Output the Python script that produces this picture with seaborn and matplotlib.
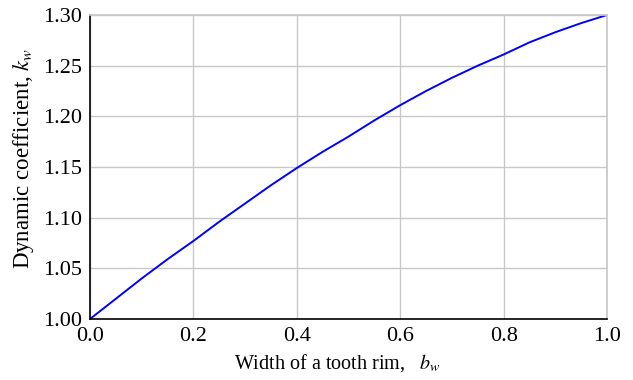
import pandas as pd
import matplotlib
matplotlib.use("Agg")
import matplotlib.pyplot as plt
import seaborn as sns

# Values (every 0.05)
width = [0.00, 0.05, 0.10, 0.15, 0.20, 0.25, 0.30, 0.35, 0.40, 0.45, 0.50,
         0.55, 0.60, 0.65, 0.70, 0.75, 0.80, 0.85, 0.90, 0.95, 1.00]
coef = [1.000, 1.020, 1.040, 1.059, 1.077, 1.096, 1.114, 1.132, 1.149, 1.165, 1.180,
        1.196, 1.211, 1.225, 1.238, 1.250, 1.261, 1.273, 1.283, 1.292, 1.300]
x_ticks = [0.0, 0.2, 0.4, 0.6, 0.8, 1.0]
y_ticks = [1.00, 1.05, 1.10, 1.15, 1.20, 1.25, 1.30]


def main():
    sns.set_theme(style="whitegrid")
    plt.rcParams['font.family'] = ['Liberation Serif', 'DejaVu Serif']
    plt.rcParams['mathtext.fontset'] = 'stix'

    df = pd.DataFrame({"width": width, "coef": coef})

    fig, ax = plt.subplots(figsize=(6.33, 3.8), dpi=100)
    sns.lineplot(data=df, x="width", y="coef", color="#0000ff", linewidth=1.4, ax=ax)

    ax.set_xlim(0, 1.0)
    ax.set_ylim(1.0, 1.3)
    ax.set_xticks(x_ticks)
    ax.set_yticks(y_ticks)
    ax.set_xticklabels([f"{v:.1f}" for v in x_ticks])
    ax.set_yticklabels([f"{v:.2f}" for v in y_ticks])
    ax.tick_params(labelsize=16, length=0, colors="black")
    ax.tick_params(axis="x", pad=5.5)
    ax.tick_params(axis="y", pad=5.5)

    ax.grid(True, color="#c8c8c8", linewidth=1.0)
    for side in ["top", "right"]:
        ax.spines[side].set_color("#c8c8c8")
    for side in ["left", "bottom"]:
        ax.spines[side].set_color("black")
        ax.spines[side].set_linewidth(1.2)

    ax.set_xlabel(r"Width of a tooth rim,   $b_w$", fontsize=14.5, color="black")
    ax.set_ylabel(r"Dynamic coefficient, $k_w$", fontsize=16.5, color="black")
    ax.xaxis.set_label_coords(0.479, -0.11)
    ax.yaxis.set_label_coords(-0.104, 0.53)

    fig.subplots_adjust(left=90 / 633, right=607 / 633, top=1 - 15 / 380, bottom=1 - 319 / 380)
    fig.savefig("out.png", dpi=100)


if __name__ == "__main__":
    main()
